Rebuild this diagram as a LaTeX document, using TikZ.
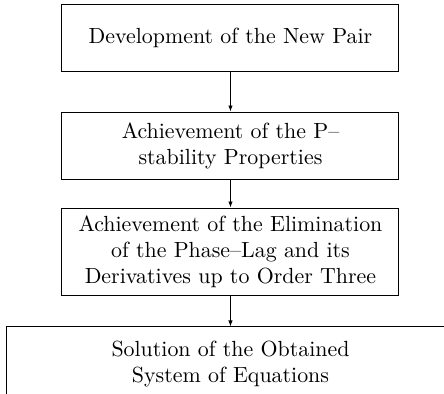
\documentclass[tikz,border=0pt]{standalone}
\usetikzlibrary{arrows.meta, positioning}
\tikzset{
  stage/.style={draw, line width=0.5pt, align=center, minimum width=168.5pt, minimum height=33.5pt, inner sep=4pt},
  wide/.style={stage, minimum width=224pt, minimum height=37pt},
  flow/.style={-{Latex[length=3pt, width=2.2pt]}},
}

\begin{document}
\begin{tikzpicture}[font=\fontsize{10.95}{13}\selectfont]
  \useasboundingbox (0,0) rectangle (7.802,-6.906);
  % Stages
  \node[stage] (pair) at (4.05,-0.668) {Development of the New Pair};
  \node[stage] (pstab) at (4.05,-2.557) {Achievement of the P--\\stability Properties};
  \node[stage] (lag) at (4.05,-4.428) {Achievement of the Elimination\\of the Phase--Lag and its\\Derivatives up to Order Three};
  \node[wide] (solve) at (4.05,-6.396) {Solution of the Obtained\\System of Equations};
  % Flow
  \draw[flow] (pair) -- (pstab);
  \draw[flow] (pstab) -- (lag);
  \draw[flow] (lag) -- (solve);
\end{tikzpicture}
\end{document}
